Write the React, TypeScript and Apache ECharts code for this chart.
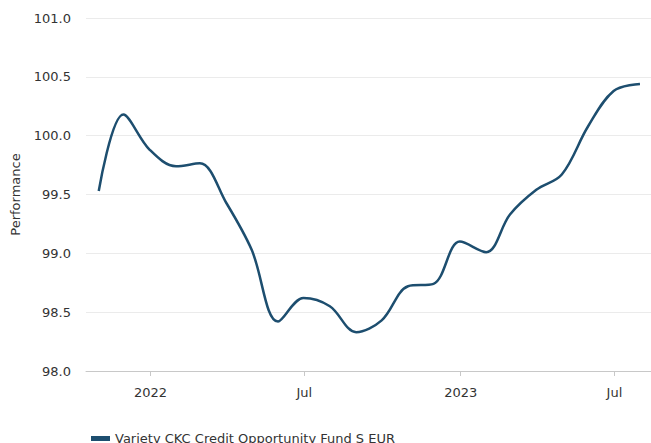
import React, { useEffect, useRef } from "react";
import * as echarts from "echarts";

const seriesName = "Variety CKC Credit Opportunity Fund S EUR";
const dates = [
  "2021-11-01", "2021-11-30", "2021-12-31", "2022-01-31", "2022-02-28", "2022-03-31",
  "2022-04-30", "2022-05-31", "2022-06-30", "2022-07-31", "2022-08-31", "2022-09-30",
  "2022-10-31", "2022-11-30", "2022-12-31", "2023-01-31", "2023-02-28", "2023-03-31",
  "2023-04-30", "2023-05-31", "2023-06-30", "2023-07-31",
];
const values = [
  99.53, 100.18, 99.88, 99.74, 99.765, 99.43,
  99.03, 98.42, 98.62, 98.55, 98.33, 98.43,
  98.72, 98.74, 99.1, 99.01, 99.33, 99.54,
  99.67, 100.08, 100.38, 100.44,
];
const xTickDates = ["2022-01-01", "2022-07-01", "2023-01-01", "2023-07-01"];
const xTickLabels = ["2022", "Jul", "2023", "Jul"];
const yMin = 98;
const yMax = 101;
const yStep = 0.5;
const xMinDate = "2021-10-17";
const xMaxDate = "2023-08-13";

const ts = (d: string) => {
  const [y, m, dd] = d.split("-").map(Number);
  return Date.UTC(y, m - 1, dd);
};

export default function App() {
  const ref = useRef<HTMLDivElement>(null);
  useEffect(() => {
    document.body.style.margin = "0";
    if (!ref.current) return;
    const chart = echarts.init(ref.current, undefined, { renderer: "svg" });
    const tickTs = xTickDates.map(ts);
    const font = "'DejaVu Sans', Verdana, sans-serif";
    chart.setOption({
      animation: false,
      textStyle: { fontFamily: font },
      grid: { left: 86, right: 0, top: 18, bottom: 72, containLabel: false },
      legend: {
        data: [{ name: seriesName, icon: "rect" }],
        left: 86,
        top: 427,
        itemWidth: 19,
        itemHeight: 5,
        textStyle: { fontFamily: font, fontSize: 13, color: "#333" },
      },
      xAxis: {
        type: "value",
        min: ts(xMinDate),
        max: ts(xMaxDate),
        axisLine: { show: true, lineStyle: { color: "#c8c8c8", width: 1 } },
        axisTick: { show: true, customValues: tickTs, length: 5, lineStyle: { color: "#c8c8c8" } },
        axisLabel: {
          customValues: tickTs,
          margin: 15,
          fontSize: 13,
          fontFamily: font,
          color: "#333",
          formatter: (v: number) => {
            const i = tickTs.indexOf(v);
            return i >= 0 ? xTickLabels[i] : "";
          },
        },
        splitLine: { show: false },
      },
      yAxis: {
        type: "value",
        min: yMin,
        max: yMax,
        interval: yStep,
        name: "Performance",
        nameLocation: "middle",
        nameGap: 64,
        nameTextStyle: { fontSize: 13, fontFamily: font, color: "#333" },
        axisLine: { show: false },
        axisTick: { show: false },
        axisLabel: {
          margin: 15,
          fontSize: 13,
          fontFamily: font,
          color: "#333",
          formatter: (v: number) => v.toFixed(1),
        },
        splitLine: { lineStyle: { color: "#ebebeb", width: 1 } },
      },
      series: [
        {
          name: seriesName,
          type: "line",
          data: dates.map((d, i) => [ts(d), values[i]]),
          smooth: 0.35,
          showSymbol: false,
          lineStyle: { color: "#1d4e6f", width: 2.5 },
          itemStyle: { color: "#1d4e6f" },
        },
      ],
    });
    return () => chart.dispose();
  }, []);
  return <div ref={ref} style={{ width: 651, height: 443 }} />;
}
